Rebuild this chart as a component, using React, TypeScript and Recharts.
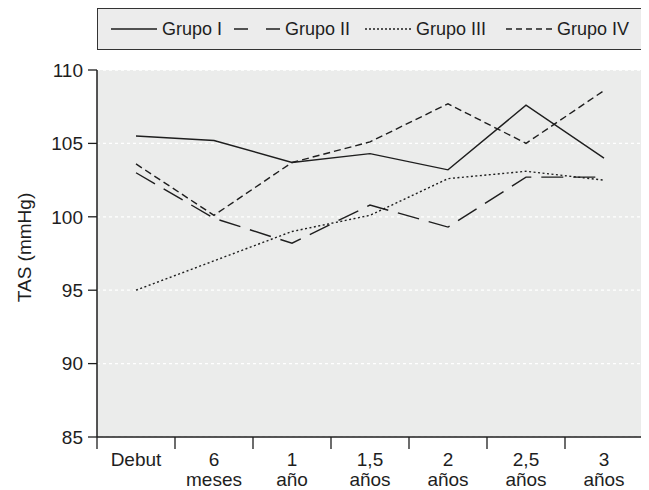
import { LineChart, Line, XAxis, YAxis, CartesianGrid, Legend, Label } from 'recharts';

// categories and tick labels
const periods = ['Debut', '6 meses', '1 año', '1,5 años', '2 años', '2,5 años', '3 años'];
const labelTop = ['Debut', '6', '1', '1,5', '2', '2,5', '3'];
const labelBottom = ['', 'meses', 'año', 'años', 'años', 'años', 'años'];
const yTicks = [85, 90, 95, 100, 105, 110];

// TAS values
const grupoI = [105.5, 105.2, 103.7, 104.3, 103.2, 107.6, 104.0];
const grupoII = [103.0, 99.9, 98.2, 100.8, 99.3, 102.7, 102.7];
const grupoIII = [95.0, 97.0, 99.0, 100.1, 102.6, 103.1, 102.5];
const grupoIV = [103.6, 100.1, 103.7, 105.1, 107.7, 105.0, 108.6];

const data = periods.map((p, i) => ({
  period: p,
  g1: grupoI[i],
  g2: grupoII[i],
  g3: grupoIII[i],
  g4: grupoIV[i],
}));

const FONT = '"Liberation Sans", Arial, sans-serif';
const INK = '#1e1e1e';

const series = [
  { key: 'g1', name: 'Grupo I', dash: undefined, legendDash: undefined, gap: 0 },
  { key: 'g2', name: 'Grupo II', dash: '22 10', legendDash: '14 18', gap: 12 },
  { key: 'g3', name: 'Grupo III', dash: '2 2.5', legendDash: '2 2', gap: 15 },
  { key: 'g4', name: 'Grupo IV', dash: '7 4', legendDash: '6 4', gap: 20 },
];

const LegendBox = () => (
  <div
    style={{
      boxSizing: 'border-box',
      width: 546,
      height: 42,
      border: '1px solid #333',
      background: '#ececec',
      display: 'flex',
      alignItems: 'center',
      paddingLeft: 13,
      fontFamily: FONT,
      fontSize: 18,
      color: INK,
    }}
  >
    {series.map((s) => (
      <div key={s.key} style={{ display: 'flex', alignItems: 'center', marginLeft: s.gap }}>
        <svg width={46} height={10}>
          <line x1={0} y1={5} x2={46} y2={5} stroke={INK} strokeWidth={1.4} strokeDasharray={s.legendDash} />
        </svg>
        <span style={{ marginLeft: 5 }}>{s.name}</span>
      </div>
    ))}
  </div>
);

const XTick = (props: any) => {
  const { x, y, index, visibleTicksCount } = props;
  const half = 39;
  const last = index === (visibleTicksCount ?? periods.length) - 1;
  return (
    <g>
      <line x1={x - half} y1={y} x2={x - half} y2={y + 12} stroke={INK} strokeWidth={1.3} />
      {last && <line x1={x + half} y1={y} x2={x + half} y2={y + 12} stroke={INK} strokeWidth={1.3} />}
      <text x={x} y={y + 29} textAnchor="middle" fontFamily={FONT} fontSize={19} fill={INK}>
        {labelTop[index]}
      </text>
      <text x={x} y={y + 49} textAnchor="middle" fontFamily={FONT} fontSize={19} fill={INK}>
        {labelBottom[index]}
      </text>
    </g>
  );
};

const App = () => {
  return (
    <LineChart width={641} height={482} data={data} margin={{ top: 20, right: 6, left: 0, bottom: 0 }}>
      <CartesianGrid vertical={false} fill="#ebeceb" stroke="#ffffff" strokeDasharray="3 3" strokeWidth={1.3} />
      <Legend
        verticalAlign="top"
        align="left"
        content={() => <LegendBox />}
        wrapperStyle={{ top: 0, left: 89, width: 546 }}
      />
      <XAxis
        dataKey="period"
        height={53}
        interval={0}
        padding={{ left: 39, right: 39 }}
        tickSize={0}
        tickMargin={0}
        tick={<XTick />}
        axisLine={{ stroke: INK, strokeWidth: 1.5 }}
      />
      <XAxis xAxisId="top" orientation="top" height={0} tick={false} tickLine={false} axisLine={{ stroke: '#444', strokeWidth: 1.5 }} />
      <YAxis
        domain={[85, 110]}
        ticks={yTicks}
        width={89}
        tickSize={9}
        tickMargin={5}
        tick={{ fontFamily: FONT, fontSize: 19, fill: INK }}
        tickLine={{ stroke: INK, strokeWidth: 1.3 }}
        axisLine={{ stroke: INK, strokeWidth: 1.5 }}
      >
        <Label
          value="TAS (mmHg)"
          angle={-90}
          position="insideLeft"
          offset={16}
          dy={-6}
          style={{ textAnchor: 'middle', fontFamily: FONT, fontSize: 19, fill: INK }}
        />
      </YAxis>
      <YAxis yAxisId="right" orientation="right" width={0} domain={[85, 110]} tick={false} tickLine={false} axisLine={{ stroke: '#444', strokeWidth: 1.5 }} />
      {series.map((s) => (
        <Line
          key={s.key}
          type="linear"
          dataKey={s.key}
          name={s.name}
          stroke={INK}
          strokeWidth={1.4}
          strokeDasharray={s.dash}
          dot={false}
          activeDot={false}
          isAnimationActive={false}
        />
      ))}
    </LineChart>
  );
};

export default App;
